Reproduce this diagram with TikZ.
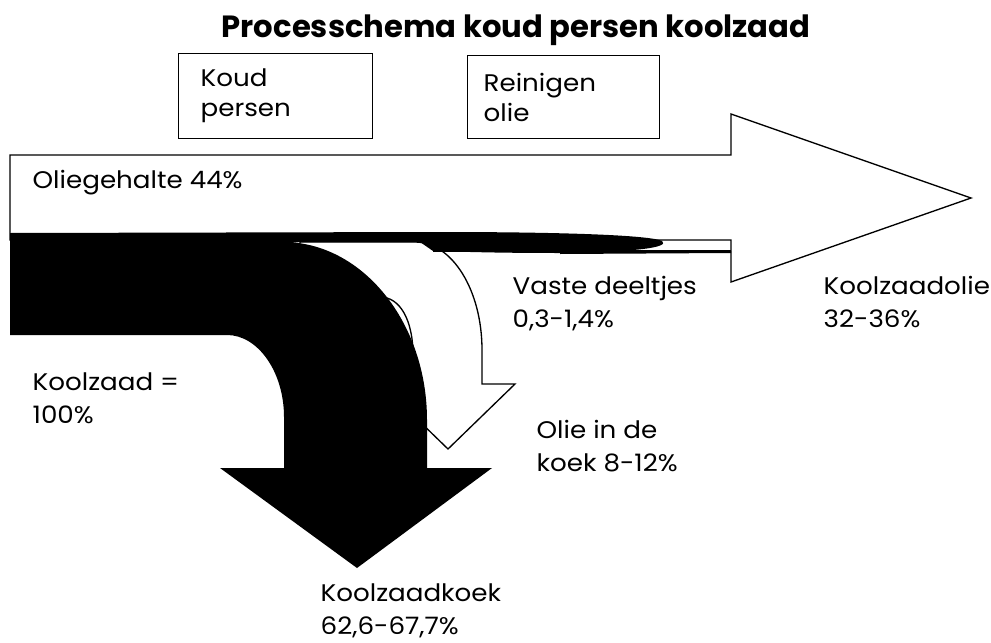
\documentclass[tikz,border=0pt]{standalone}
\usepackage{fontspec}
\setmainfont{Poppins}[FakeStretch=1.09]
\begin{document}
\begin{tikzpicture}[x=0.75pt,y=-0.75pt, line width=1pt, line join=miter,
 lbl/.style={font=\fontsize{18}{24.75}\selectfont, align=left, inner sep=0pt, anchor=base west},
 boxst/.style={draw, line width=1pt, anchor=north west, align=left, inner ysep=0pt, font=\fontsize{18}{22.5}\selectfont},
 outl/.style={draw=black, fill=white, line width=1pt}]
\useasboundingbox (0,0) rectangle (991,642);
% title
\node[font=\fontsize{23}{28}\selectfont\bfseries\addfontfeature{FakeStretch=1.0}, anchor=base, inner sep=0pt] (title) at (516,38) {Processchema koud persen koolzaad};
% boxes
\node[boxst, minimum width=145.5pt, minimum height=63.75pt, text width=112.5pt, inner xsep=16.5pt] (koud) at (178,53) {Koud\\persen};
\node[boxst, minimum width=144pt, minimum height=62.25pt, text width=120pt, inner xsep=12pt] (rein) at (467,55) {Reinigen\\olie};
% big white arrow (oil)
\draw[outl] (10,155) -- (731,155) -- (731,114) -- (971,198) -- (731,282) -- (731,240) -- (10,240) -- cycle;
% curved white arrow (oil in cake)
\draw[outl] (300,242) -- (415,242) .. controls (452,242) and (482,290) .. (482,350) -- (482,384) -- (515,384) -- (448,449) -- (381,384) -- (413,384) -- (413,355) .. controls (413,320) and (400,297) .. (380,297) -- (300,297) -- cycle;
\draw (433,251) -- (731,251);
% black sliver (solid particles)
\fill (420,232) -- (440,232) .. controls (560,232) and (650,235) .. (662,241) .. controls (670,247) and (640,252) .. (560,253) .. controls (500,253) and (470,252) .. (433,251) -- (420,242) -- cycle;
\fill (560,251) -- (731,251) -- (731,253) -- (560,254) -- cycle;
% black rapeseed arrow
\fill (10,233) -- (440,232) -- (440,242) -- (283,242) .. controls (362,242) and (427,322) .. (427,420) -- (427,468) -- (492,468) -- (357,568) -- (220,468) -- (284,468) -- (284,417) .. controls (284,372) and (258,335) .. (227,335) -- (10,335) -- cycle;
% labels
\node[lbl] (olieg) at (32,188) {Oliegehalte 44\%};
\node[lbl] (kz) at (32,423) {Koolzaad =\\100\%};
\node[lbl] (vaste) at (512,327) {Vaste deeltjes\\0,3-1,4\%};
\node[lbl] (kzolie) at (823,327) {Koolzaadolie\\32-36\%};
\node[lbl] (oliekoek) at (536,471) {Olie in de\\koek 8-12\%};
\node[lbl] (kzkoek) at (320,634) {Koolzaadkoek\\62,6-67,7\%};
\end{tikzpicture}
\end{document}
